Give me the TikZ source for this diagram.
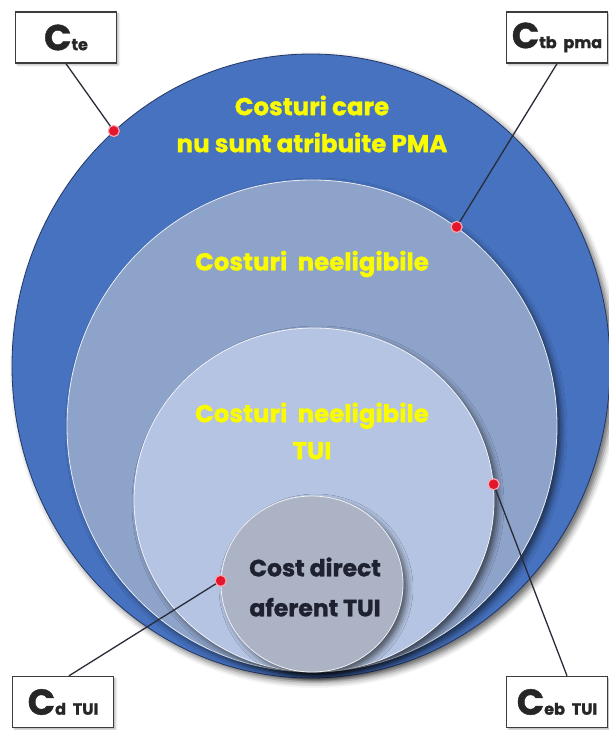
\documentclass[tikz,border=0pt]{standalone}
\usepackage{fontspec}
\setmainfont{Poppins}
\newfontfamily\heavyfont{Poppins}[FakeBold=1.2]
\usetikzlibrary{shapes.geometric,shadows.blur}
\definecolor{outerblue}{RGB}{70,114,192}
\definecolor{outeredge}{RGB}{35,55,100}
\definecolor{ringtwo}{RGB}{142,163,201}
\definecolor{ringthree}{RGB}{180,196,226}
\definecolor{ringfour}{RGB}{172,179,196}
\definecolor{ytxt}{RGB}{250,250,0}
\definecolor{dtxt}{RGB}{30,34,48}
\definecolor{dotred}{RGB}{228,22,45}
\definecolor{dotrim}{RGB}{250,170,180}
\definecolor{boxedge}{RGB}{60,60,60}
\definecolor{linecol}{RGB}{40,44,56}
\newcommand\labbig[1]{{\fontsize{36}{36}\selectfont #1}}
\newcommand\labsmall[1]{{\fontsize{16}{16}\selectfont #1}}
\begin{document}
\begin{tikzpicture}[x=1pt,y=-1pt,
  disc/.style={ellipse,inner sep=0pt,
    blur shadow={shadow xshift=4pt,shadow yshift=-4pt,shadow blur radius=6pt,shadow opacity=60}},
  ytext/.style={text=ytxt,font=\heavyfont\bfseries\fontsize{24.5}{37}\selectfont,align=center,inner sep=0pt},
  dtext/.style={text=dtxt,font=\heavyfont\bfseries\fontsize{23.5}{40}\selectfont,align=center,inner sep=0pt},
  reddot/.style={circle,fill=dotred,draw=dotrim,line width=1pt,minimum size=11pt,inner sep=0pt},
  labbox/.style={draw=boxedge,line width=1.4pt,fill=white,minimum width=101pt,minimum height=51pt,
    inner sep=0pt,font=\heavyfont\bfseries,text=black!85,
    blur shadow={shadow xshift=2pt,shadow yshift=-2pt,shadow blur radius=2pt,shadow opacity=30}},
  conn/.style={draw=linecol,line width=1.3pt}]
\useasboundingbox (0,0) rectangle (608,730);
% nested discs
\node[disc,fill=outerblue,draw=outeredge,line width=0.8pt,minimum width=598pt,minimum height=624pt] (c1) at (311,366) {};
\node[disc,fill=ringtwo,draw=white!80!ringtwo,line width=0.8pt,minimum width=490pt,minimum height=492pt] (c2) at (312,426) {};
\node[disc,fill=ringthree,draw=white!80!ringthree,line width=0.8pt,minimum width=360pt,minimum height=344pt] (c3) at (314,500) {};
\node[disc,fill=ringfour,draw=white!80!ringfour,line width=0.8pt,minimum width=182pt,minimum height=176pt] (c4) at (312,584) {};
% texts
\node[ytext] (t1) at (312,124) {Costuri care\\nu sunt atribuite PMA};
\node[ytext] (t2) at (312,264) {Costuri\ \ neeligibile};
\node[ytext] (t3) at (312,431) {Costuri\ \ neeligibile\\TUI};
\node[dtext] (t4) at (315,587) {Cost direct\\aferent TUI};
% red dots
\node[reddot] (dte) at (c1.130) {};
\node[reddot] (dtb) at (c2.54) {};
\node[reddot] (deb) at (c3.5) {};
\node[reddot] (dd) at (c4.178) {};
% label boxes
\node[labbox] (bte) at (66,37.5) {\labbig{C}\labsmall{te}};
\node[labbox] (btb) at (557,37.5) {\labbig{C}\labsmall{tb\ \ pma}};
\node[labbox] (bd) at (63,702) {\labbig{C}\labsmall{d\ \ TUI}};
\node[labbox] (beb) at (557,702) {\labbig{C}\labsmall{eb\ \ TUI}};
% connectors
\draw[conn] (bte.south) -- (dte.center);
\draw[conn] (btb.south) -- (dtb.center);
\draw[conn] ([xshift=6pt]bd.north) -- (dd.center);
\draw[conn] ([xshift=10pt]beb.north) -- (deb.center);
% redraw dots on top
\node[reddot] at (dte) {};
\node[reddot] at (dtb) {};
\node[reddot] at (deb) {};
\node[reddot] at (dd) {};
\end{tikzpicture}
\end{document}
